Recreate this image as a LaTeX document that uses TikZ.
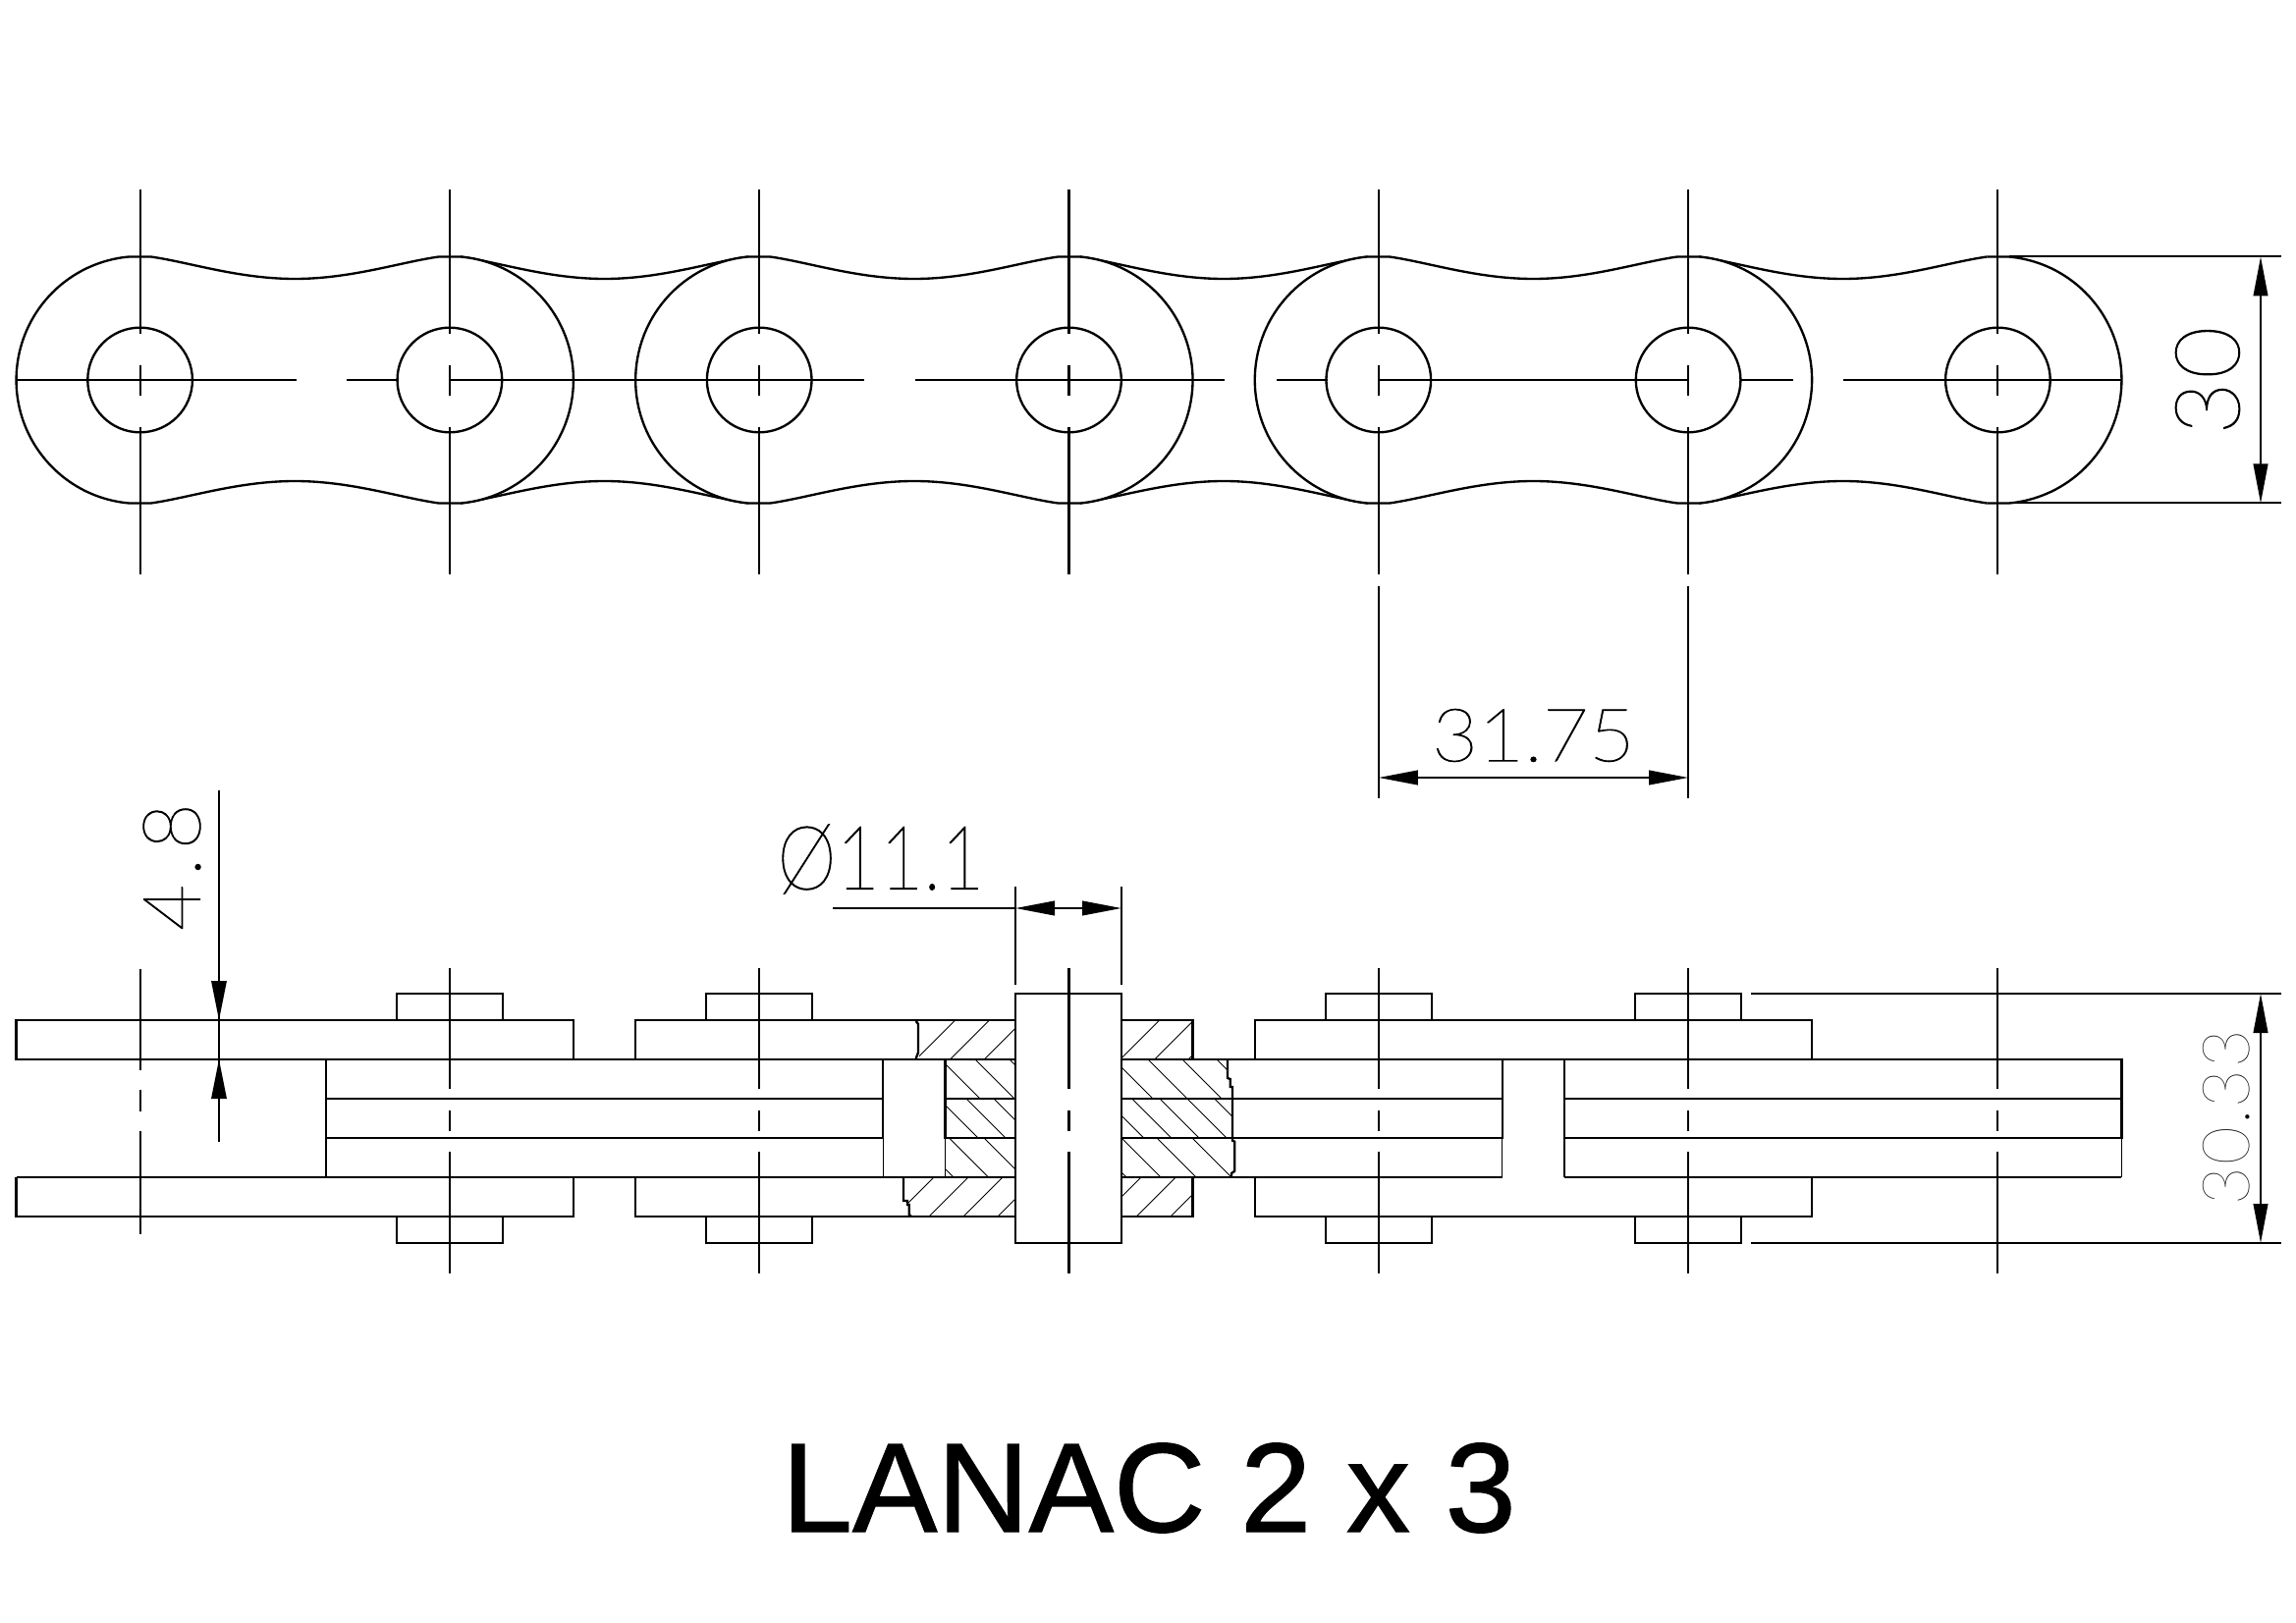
\documentclass[tikz,border=0pt]{standalone}
\usepackage{fontspec}
\setmainfont{Liberation Sans}
\newfontfamily\titlefont[FakeBold=1]{Liberation Sans}
\newfontfamily\dimfont{Lato}[UprightFont=* Thin, FakeBold=1.2]
\newfontfamily\faintfont{Lato}[UprightFont=* Hairline]
\usetikzlibrary{arrows.meta}
\tikzstyle{part} = [line width=0.7pt, line cap=butt]
\tikzstyle{thinpart} = [line width=0.4pt]
\tikzstyle{axis} = [line width=0.65pt]
\tikzstyle{hatch} = [line width=0.28pt]
\tikzstyle{dimline} = [line width=0.6pt]
\tikzstyle{dimarrows} = [line width=0.6pt, {Triangle[length=12pt,width=4.4pt]}-{Triangle[length=12pt,width=4.4pt]}]
\tikzstyle{dimtip} = [line width=0.6pt, -{Triangle[length=12pt,width=4.6pt]}]
\tikzstyle{dimtext} = [inner sep=0pt, text=black]
% one wave of a link, from one pin to the next
\newcommand{\topwave}{(11,261.5) .. controls (50,267) and (100,284) .. (157.65,284) .. controls (215,284) and (265,267) .. (304.3,261.5)}
\newcommand{\botwave}{(304.3,512.5) .. controls (265,507) and (215,490) .. (157.65,490) .. controls (100,490) and (50,507) .. (11,512.5)}
\begin{document}
\begin{tikzpicture}[x=0.3pt, y=-0.3pt]
\useasboundingbox (0,0) rectangle (2338,1653);

% top view, inner links first
\foreach \cx in {457.9,1088.5,1719.1} {
    \begin{scope}[shift={(\cx,0)}]
        \draw[part] \topwave;
        \draw[part] \botwave;
    \end{scope}
}
\draw[part] (2023.4,261.5) -- (2045.4,261.5) arc[start angle=85, end angle=-85, radius=37.8pt] -- (2023.4,512.5);
% outer links on top
\foreach \cx in {142.6,773.2,1403.8} {
    \begin{scope}[shift={(\cx,0)}]
        \filldraw[part, fill=white] \topwave -- (326.3,261.5)
            arc[start angle=85, end angle=-85, radius=37.8pt]
            -- \botwave -- (-11,512.5)
            arc[start angle=265, end angle=95, radius=37.8pt] -- cycle;
    \end{scope}
}
\foreach \cx in {142.6,457.9,773.2,1088.5,1403.8,1719.1,2034.4} {
    \draw[part] (\cx,387) circle[radius=16pt];
    \draw[axis] (\cx,193) -- (\cx,340);
    \draw[axis] (\cx,372) -- (\cx,403);
    \draw[axis] (\cx,435) -- (\cx,585);
}
\draw[axis] (16.6,387) -- (302,387);
\draw[axis] (352.5,387) -- (406,387);
\draw[axis] (457.9,387) -- (880,387);
\draw[axis] (931.7,387) -- (1247,387);
\draw[axis] (1300,387) -- (1351.7,387);
\draw[axis] (1403.8,387) -- (1719.1,387);
\draw[axis] (1772,387) -- (1826,387);
\draw[axis] (1877,387) -- (2160.4,387);

% section view, plates
\foreach \xa/\xb in {16.6/583.9,647.2/1214.5,1277.8/1845.1} {
    \draw[part] (\xa,1039) rectangle (\xb,1079);
    \draw[part] (\xa,1199) -- (\xa,1239) -- (\xb,1239) -- (\xb,1199);
}
\draw[part] (16.6,1079) -- (2160.4,1079);
\draw[part] (16.6,1199) -- (1529.8,1199);
\draw[part] (1593.1,1199) -- (2160.4,1199);
\foreach \xa/\xb in {331.9/899.2,962.5/1529.8,1593.1/2160.4} {
    \draw[part] (\xa,1079) rectangle (\xb,1119);
    \draw[part] (\xa,1119) rectangle (\xb,1159);
    \draw[thinpart] (\xa,1159) -- (\xa,1199);
    \draw[thinpart] (\xb,1159) -- (\xb,1199);
}
\foreach \cx in {457.9,773.2,1403.8,1719.1} {
    \draw[part] (\cx-54,1039) -- (\cx-54,1012) -- (\cx+54,1012) -- (\cx+54,1039);
    \draw[part] (\cx-54,1239) -- (\cx-54,1266) -- (\cx+54,1266) -- (\cx+54,1239);
}

% cut part round the pin
\begin{scope}
    \clip (936,1039) rectangle (1034,1079);
    \foreach \hx in {932.7,967.5,1002.3} { \draw[hatch] (\hx,1079) -- ++(42,-42); }
\end{scope}
\begin{scope}
    \clip (1142,1039) rectangle (1214.5,1079);
    \foreach \hx in {1140.7,1175.7,1210} { \draw[hatch] (\hx,1079) -- ++(42,-42); }
\end{scope}
\begin{scope}
    \clip (924,1199) rectangle (1034,1239);
    \foreach \hx in {911,946,981,1016} { \draw[hatch] (\hx,1239) -- ++(42,-42); }
\end{scope}
\begin{scope}
    \clip (1142,1199) rectangle (1214.5,1239);
    \foreach \hx in {1122,1157.3,1192} { \draw[hatch] (\hx,1239) -- ++(42,-42); }
\end{scope}
\begin{scope}
    \clip (962.5,1079) rectangle (1034,1199);
    \foreach \hx in {958,993,1028} { \draw[hatch] (\hx,1079) -- ++(40,40); }
    \foreach \hx in {956,984,1012} { \draw[hatch] (\hx,1119) -- ++(40,40); }
    \foreach \hx in {931,966.5,1002} { \draw[hatch] (\hx,1159) -- ++(40,40); }
\end{scope}
\begin{scope}
    \clip (1142,1079) -- (1250,1079) -- (1250,1098) -- (1252.7,1107) -- (1255,1107) -- (1255,1161.7)
        -- (1257.3,1162.7) -- (1257.3,1192.7) -- (1254,1199) -- (1142,1199) -- cycle;
    \foreach \hx in {1134,1169,1204,1239} { \draw[hatch] (\hx,1079) -- ++(40,40); }
    \foreach \hx in {1124.7,1152.7,1181,1209,1236.7} { \draw[hatch] (\hx,1119) -- ++(40,40); }
    \foreach \hx in {1107,1142,1178,1214} { \draw[hatch] (\hx,1159) -- ++(40,40); }
\end{scope}
\draw[part] (932.7,1040) -- (935,1043) -- (935,1072) -- (932.7,1078);
\draw[part] (920,1199) -- (920,1223) -- (924,1223) -- (924,1227) -- (925.7,1227) -- (925.7,1237) -- (928,1239);
\draw[part] (1250,1079) -- (1250,1098) -- (1252.7,1099) -- (1252.7,1107) -- (1255,1107) -- (1255,1161.7)
    -- (1257.3,1162.7) -- (1257.3,1192.7) -- (1254,1195) -- (1254,1199);

% pin
\filldraw[part, fill=white] (1034,1012) rectangle (1142,1266);

% section view, axes
\draw[axis] (142.6,987) -- (142.6,1090);
\draw[axis] (142.6,1110) -- (142.6,1132);
\draw[axis] (142.6,1152) -- (142.6,1257);
\foreach \cx in {457.9,773.2,1088.5,1403.8,1719.1,2034.4} {
    \draw[axis] (\cx,986) -- (\cx,1109);
    \draw[axis] (\cx,1131) -- (\cx,1152);
    \draw[axis] (\cx,1173) -- (\cx,1297);
}

% dimensions
\draw[dimline] (2046,261.5) -- (2323,261.5);
\draw[dimline] (2046,512.5) -- (2323,512.5);
\draw[dimarrows] (2302,261.5) -- (2302,512.5);
\node[dimtext, rotate=90, font=\dimfont\fontsize{27.5}{27.5}\selectfont] (widthlabel) at (2248,387.5) {\addfontfeature{LetterSpace=4}30};

\draw[dimline] (1403.8,597) -- (1403.8,813);
\draw[dimline] (1719.1,597) -- (1719.1,813);
\draw[dimarrows] (1403.8,792) -- (1719.1,792);
\node[dimtext, xscale=1.08, font=\dimfont\fontsize{22.5}{22.5}\selectfont] (pitchlabel) at (1561.5,749) {31.75};

\draw[dimline] (1034,903) -- (1034,1003);
\draw[dimline] (1142,903) -- (1142,1003);
\draw[dimline] (848,925) -- (1034,925);
\draw[dimarrows] (1034,925) -- (1142,925);
\node[dimtext, xscale=0.85, font=\dimfont\fontsize{27}{27}\selectfont] (pinlabel) at (897,875) {Ø11.1};

\draw[dimline] (223,805) -- (223,1163);
\draw[dimtip] (223,990) -- (223,1039);
\draw[dimtip] (223,1128) -- (223,1079);
\node[dimtext, rotate=90, font=\dimfont\fontsize{24.5}{24.5}\selectfont] (platelabel) at (175,883) {\addfontfeature{LetterSpace=10}4.8};

\draw[dimline] (1783,1012) -- (2323,1012);
\draw[dimline] (1783,1266) -- (2323,1266);
\draw[dimarrows] (2302,1012) -- (2302,1266);
\node[dimtext, rotate=90, font=\faintfont\fontsize{20}{20}\selectfont] (lengthlabel) at (2267,1138) {\addfontfeature{LetterSpace=3}30.33};

\node[inner sep=0pt, anchor=base, font=\titlefont\fontsize{38.8}{38.8}\selectfont] (title) at (1170,1560) {LANAC 2 x 3};
\end{tikzpicture}
\end{document}
